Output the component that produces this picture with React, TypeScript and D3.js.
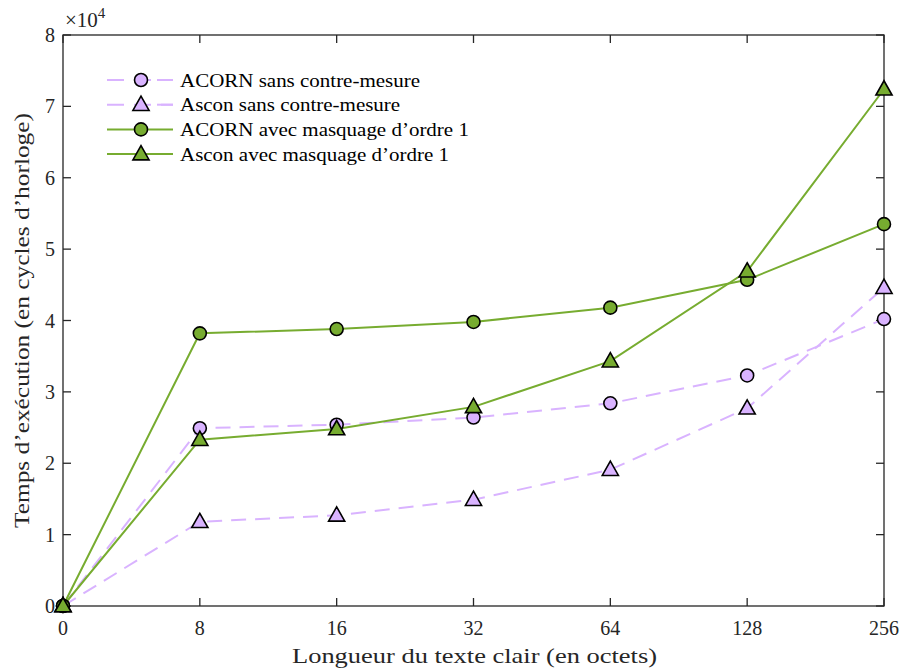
import React from "react";
import * as d3 from "d3";

const categories = ["0", "8", "16", "32", "64", "128", "256"];
const acornSans = [0, 2.49, 2.54, 2.64, 2.84, 3.23, 4.02];
const asconSans = [0, 1.18, 1.27, 1.49, 1.91, 2.77, 4.46];
const acornMasq = [0, 3.82, 3.88, 3.98, 4.18, 4.57, 5.35];
const asconMasq = [0, 2.33, 2.48, 2.79, 3.43, 4.69, 7.24];
const yTicks = [0, 1, 2, 3, 4, 5, 6, 7, 8];

const seriesNames = [
  "ACORN sans contre-mesure",
  "Ascon sans contre-mesure",
  "ACORN avec masquage d\u2019ordre 1",
  "Ascon avec masquage d\u2019ordre 1",
];

const PURPLE = "#D9B3FF";
const GREEN = "#77AC30";
const AXIS = "#262626";
const FONT = "'Liberation Serif', 'Times New Roman', serif";

const series = [
  { name: seriesNames[0], values: acornSans, color: PURPLE, dashed: true, marker: "circle" },
  { name: seriesNames[1], values: asconSans, color: PURPLE, dashed: true, marker: "triangle" },
  { name: seriesNames[2], values: acornMasq, color: GREEN, dashed: false, marker: "circle" },
  { name: seriesNames[3], values: asconMasq, color: GREEN, dashed: false, marker: "triangle" },
];

function Marker({ type, x, y, fill }: { type: string; x: number; y: number; fill: string }) {
  if (type === "circle") {
    return <circle cx={x} cy={y} r={6.5} fill={fill} stroke="#000" strokeWidth={1.6} />;
  }
  const r = 8.5;
  const pts = `${x},${y - r} ${x + r * 0.95},${y + r * 0.68} ${x - r * 0.95},${y + r * 0.68}`;
  return <polygon points={pts} fill={fill} stroke="#000" strokeWidth={1.6} strokeLinejoin="miter" />;
}

export default function App() {
  const W = 901, H = 670;
  const left = 63, right = 884, top = 35, bottom = 606;
  const x = d3.scalePoint<string>().domain(categories).range([left, right]).padding(0);
  const y = d3.scaleLinear().domain([0, 8]).range([bottom, top]);
  const tick = 8;

  return (
    <svg width={W} height={H} style={{ position: "absolute", left: 0, top: 0, background: "#fff" }}>
      <rect x={0} y={0} width={W} height={H} fill="#fff" />
      {/* axes box */}
      <rect x={left} y={top} width={right - left} height={bottom - top} fill="none" stroke={AXIS} strokeWidth={1.3} />
      {categories.map((c) => (
        <g key={"xt" + c}>
          <line x1={x(c)} x2={x(c)} y1={bottom} y2={bottom - tick} stroke={AXIS} strokeWidth={1.3} />
          <line x1={x(c)} x2={x(c)} y1={top} y2={top + tick} stroke={AXIS} strokeWidth={1.3} />
          <text x={x(c)} y={628} fill={AXIS} fontFamily={FONT} fontSize={20} textAnchor="middle" dominantBaseline="central">
            {c}
          </text>
        </g>
      ))}
      {yTicks.map((t) => (
        <g key={"yt" + t}>
          <line x1={left} x2={left + tick} y1={y(t)} y2={y(t)} stroke={AXIS} strokeWidth={1.3} />
          <line x1={right} x2={right - tick} y1={y(t)} y2={y(t)} stroke={AXIS} strokeWidth={1.3} />
          <text x={55} y={y(t)} fill={AXIS} fontFamily={FONT} fontSize={20} textAnchor="end" dominantBaseline="central">
            {t}
          </text>
        </g>
      ))}
      <text x={65} y={27} fill={AXIS} fontFamily={FONT} fontSize={21}>
        {"\u00d710"}
        <tspan fontSize={15} dy={-9}>4</tspan>
      </text>
      <text
        x={(left + right) / 2 + 1}
        y={663}
        fill={AXIS}
        fontFamily={FONT}
        fontSize={22}
        textAnchor="middle"
        textLength={365}
        lengthAdjust="spacingAndGlyphs"
      >
        Longueur du texte clair (en octets)
      </text>
      <text
        transform={`translate(29, ${(top + bottom) / 2}) rotate(-90)`}
        fill={AXIS}
        fontFamily={FONT}
        fontSize={22}
        textAnchor="middle"
        textLength={415}
        lengthAdjust="spacingAndGlyphs"
      >
        {"Temps d\u2019exécution (en cycles d\u2019horloge)"}
      </text>

      {/* series lines */}
      {series.map((s, i) => {
        const line = d3
          .line<number>()
          .x((_, j) => x(categories[j]) as number)
          .y((v) => y(v));
        return (
          <path
            key={"l" + i}
            d={line(s.values) || ""}
            fill="none"
            stroke={s.color}
            strokeWidth={2}
            strokeDasharray={s.dashed ? "15,9" : undefined}
          />
        );
      })}
      {series.map((s, i) => (
        <g key={"m" + i}>
          {s.values.map((v, j) => (
            <Marker key={j} type={s.marker} x={x(categories[j]) as number} y={y(v)} fill={s.color} />
          ))}
        </g>
      ))}

      {/* legend */}
      {series.map((s, i) => {
        const ly = 80 + i * 24.7;
        return (
          <g key={"lg" + i}>
            <line
              x1={107}
              x2={173}
              y1={ly}
              y2={ly}
              stroke={s.color}
              strokeWidth={2}
              strokeDasharray={s.dashed ? "17,10" : undefined}
            />
            {s.dashed && <line x1={157} x2={173} y1={ly} y2={ly} stroke={s.color} strokeWidth={2} />}
            <Marker type={s.marker} x={141} y={ly} fill={s.color} />
            <g transform={`translate(180, ${ly}) scale(1.135, 1)`}>
              <text x={0} y={0} fill="#000" fontFamily={FONT} fontSize={18.5} dominantBaseline="central">
                {s.name}
              </text>
            </g>
          </g>
        );
      })}
    </svg>
  );
}
